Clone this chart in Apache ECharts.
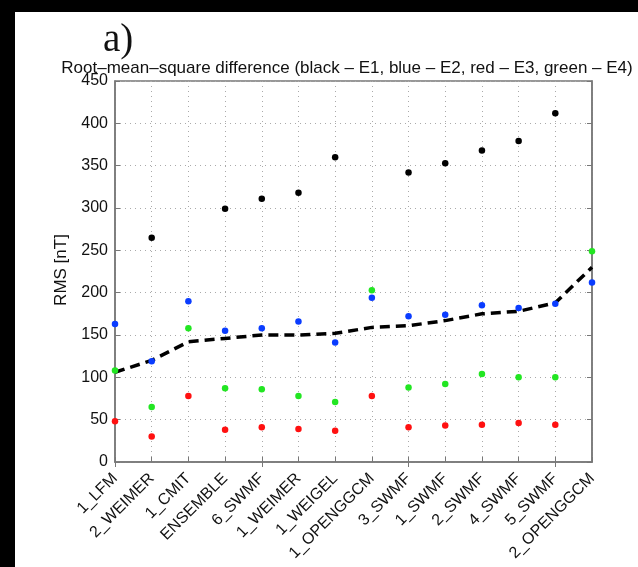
<!DOCTYPE html>
<html>
<head>
<meta charset="utf-8">
<script src="https://cdn.jsdelivr.net/npm/echarts@6/dist/echarts.min.js"></script>
<style>
  html, body { margin: 0; padding: 0; background: #fff; }
  #chart { width: 638px; height: 567px; }
</style>
</head>
<body>
<div id="chart"></div>
<script>
// Model runs along the x axis
const models = ['1_LFM', '2_WEIMER', '1_CMIT', 'ENSEMBLE', '6_SWMF', '1_WEIMER', '1_WEIGEL',
  '1_OPENGGCM', '3_SWMF', '1_SWMF', '2_SWMF', '4_SWMF', '5_SWMF', '2_OPENGGCM'];

// RMS difference [nT] per event (null = not plotted)
const rmsE1 = [null, 265, null, 299, 311, 318, 360, null, 342, 353, 368, 379, 412, null];
const rmsE2 = [163, 119, 190, 155, 158, 166, 141, 194, 172, 174, 185, 182, 187, 212];
const rmsE3 = [48, 30, 78, 38, 41, 39, 37, 78, 41, 43, 44, 46, 44, null];
const rmsE4 = [108, 65, 158, 87, 86, 78, 71, 203, 88, 92, 104, 100, 100, 249];

// Dashed reference curve across all models
const rmsCurve = [106, 120, 142, 146, 150, 150, 152, 159, 161, 167, 175, 178, 188, 230];

const yTicks = { min: 0, max: 450, step: 50 };

const FONT = 'Liberation Sans, Arial, sans-serif';
const chart = echarts.init(document.getElementById('chart'), null, { renderer: 'canvas' });

function dots(name, data, color) {
  return {
    name, type: 'scatter', data, symbol: 'circle', symbolSize: 6.5,
    itemStyle: { color, opacity: 1 }, z: 5, silent: true
  };
}

chart.setOption({
  animation: false,
  backgroundColor: '#fff',
  title: {
    text: 'Root\u2013mean\u2013square difference (black \u2013 E1, blue \u2013 E2, red \u2013 E3, green \u2013 E4)',
    left: 342, top: 55, textAlign: 'center',
    textStyle: { fontFamily: FONT, fontSize: 17, fontWeight: 'normal', color: '#111' }
  },
  graphic: [
    { type: 'rect', shape: { x: 0, y: 0, width: 638, height: 12 }, style: { fill: '#000' }, z: 100 },
    { type: 'rect', shape: { x: 0, y: 0, width: 15, height: 567 }, style: { fill: '#000' }, z: 100 },
    { type: 'text', x: 103, y: 41, style: { text: 'a)', font: '39px "Liberation Serif", "Times New Roman", serif', fill: '#111', textVerticalAlign: 'middle' }, z: 100 },
    { type: 'text', x: 61, y: 270, rotation: Math.PI / 2,
      style: { text: 'RMS [nT]', font: '17px ' + FONT, fill: '#111', textAlign: 'center', textVerticalAlign: 'middle' } }
  ],
  grid: {
    left: 115, right: 46, top: 81, bottom: 105,
    show: true, borderColor: '#777', borderWidth: 1.5, backgroundColor: 'transparent'
  },
  xAxis: [{
    type: 'category', data: models, boundaryGap: false,
    axisLine: { show: true, lineStyle: { color: '#777', width: 1.5 } },
    axisTick: { show: true, inside: true, length: 5, lineStyle: { color: '#777' }, alignWithLabel: true },
    axisLabel: { rotate: 45, interval: 0, margin: 14, fontFamily: FONT, fontSize: 16, color: '#111' },
    splitLine: { show: true, lineStyle: { color: '#aaa', type: [1, 4], width: 1 } }
  }, {
    type: 'category', data: models, boundaryGap: false, position: 'top',
    axisLine: { show: false },
    axisTick: { show: true, inside: true, length: 5, lineStyle: { color: '#777' } },
    axisLabel: { show: false }, splitLine: { show: false }
  }],
  yAxis: [{
    type: 'value', min: yTicks.min, max: yTicks.max, interval: yTicks.step,
    axisLine: { show: true, lineStyle: { color: '#777', width: 1.5 } },
    axisTick: { show: true, inside: true, length: 5, lineStyle: { color: '#777' } },
    axisLabel: { margin: 7, fontFamily: FONT, fontSize: 16, color: '#111' },
    splitLine: { show: true, lineStyle: { color: '#aaa', type: [1, 4], width: 1 } }
  }, {
    type: 'value', min: yTicks.min, max: yTicks.max, interval: yTicks.step, position: 'right',
    axisLine: { show: true, lineStyle: { color: '#777', width: 1.5 } },
    axisTick: { show: true, inside: true, length: 5, lineStyle: { color: '#777' } },
    axisLabel: { show: false }, splitLine: { show: false }
  }],
  series: [
    {
      name: 'curve', type: 'line', data: rmsCurve, symbol: 'none', silent: true, z: 3,
      lineStyle: { color: '#000', width: 3.5, type: [10, 6] }
    },
    dots('E1', rmsE1, '#000000'),
    dots('E2', rmsE2, '#0a3cff'),
    dots('E3', rmsE3, '#ff1010'),
    dots('E4', rmsE4, '#22e622')
  ]
});
</script>
</body>
</html>
